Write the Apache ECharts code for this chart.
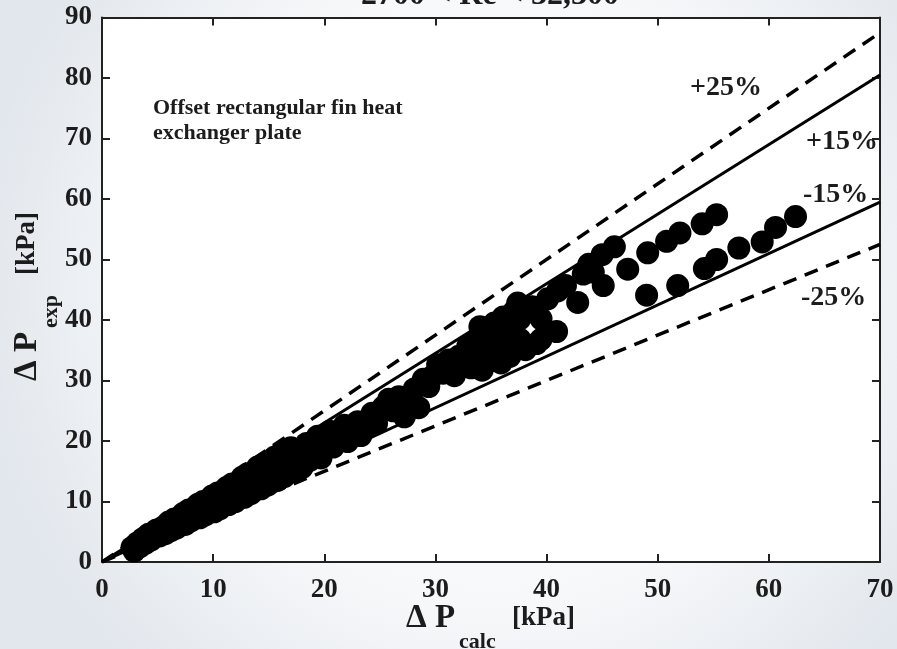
<!DOCTYPE html>
<html>
<head>
<meta charset="utf-8">
<title>Pressure drop parity plot</title>
<script src="https://cdn.jsdelivr.net/npm/echarts@6/dist/echarts.min.js"></script>
<style>
  html, body { margin: 0; padding: 0; }
  #chart { width: 897px; height: 649px; }
</style>
</head>
<body>
<div id="chart"></div>
<script>
const dpCalc = [
  2.7, 2.9, 3.2, 3.4, 3.7, 3.9, 4.2, 4.4, 4.7, 4.9,
  5.2, 5.5, 5.7, 6.0, 6.2, 6.5, 6.7, 7.0, 7.3, 7.5,
  7.8, 8.0, 8.3, 8.6, 8.8, 9.1, 9.3, 9.6, 9.9, 10.1,
  10.4, 10.6, 10.9, 11.2, 11.4, 11.7, 12.0, 12.3, 12.6, 12.8,
  13.1, 13.4, 13.7, 14.0, 14.3, 14.6, 14.9, 15.2, 15.5, 15.8,
  16.1, 16.4, 16.7, 17.0, 17.3, 17.6, 18.0, 18.4, 18.7, 19.0,
  19.4, 19.7, 20.1, 20.5, 20.8, 21.3, 21.8, 22.1, 22.5, 23.0,
  23.3, 23.8, 24.3, 24.7, 25.3, 25.8, 26.2, 26.7, 27.2, 27.6,
  28.1, 28.5, 28.9, 29.4, 29.8, 30.2, 30.7, 31.2, 31.7, 32.1,
  32.5, 32.9, 33.2, 33.6, 34.0, 34.2, 34.4, 34.7, 35.0, 35.3,
  35.6, 35.9, 36.1, 36.4, 36.7, 37.1, 37.4, 37.6, 37.6, 38.1,
  38.7, 39.1, 39.5, 39.5, 40.1, 40.9, 41.0, 41.7, 42.8, 43.3,
  43.8, 44.2, 45.0, 45.1, 46.1, 47.3, 49.1, 50.8, 52.0, 54.0,
  55.3, 49.0, 51.8, 54.2, 55.3, 57.3, 59.4, 60.6, 62.4
];
const dpExp = [
  2.4, 1.8, 3.2, 2.5, 3.9, 3.1, 4.6, 3.6, 4.2, 5.3,
  4.3, 5.8, 4.7, 6.6, 5.2, 7.1, 5.6, 6.8, 8.0, 6.2,
  8.6, 6.8, 8.1, 9.5, 7.3, 10.0, 7.8, 9.4, 10.9, 8.3,
  11.4, 8.8, 10.6, 12.3, 9.5, 12.9, 10.0, 11.9, 14.0, 10.7,
  14.6, 11.3, 13.3, 15.7, 12.1, 16.3, 12.7, 14.8, 17.3, 13.5,
  18.0, 14.1, 16.3, 18.9, 14.9, 17.4, 15.6, 19.6, 16.8, 18.5,
  20.8, 17.2, 19.9, 21.6, 19.0, 20.6, 22.6, 19.9, 21.3, 23.2,
  20.9, 22.5, 24.6, 22.9, 25.6, 26.9, 25.0, 27.3, 24.0, 26.3,
  28.6, 25.5, 30.2, 29.0, 30.8, 32.6, 31.2, 33.4, 30.8, 34.0,
  33.3, 35.6, 32.1, 36.6, 38.9, 31.7, 34.7, 37.5, 33.3, 39.5,
  35.5, 32.9, 40.5, 37.5, 34.0, 41.5, 42.8, 40.2, 36.8, 35.1,
  42.2, 36.1, 40.2, 36.8, 43.5, 38.1, 44.8, 45.7, 42.9, 47.6,
  49.2, 47.9, 50.8, 45.7, 52.1, 48.4, 51.1, 53.0, 54.4, 55.9,
  57.4, 44.1, 45.7, 48.5, 50.0, 51.9, 52.9, 55.3, 57.1
];

// deviation bands y = k * x
const bandSlopes = [1.25, 1.15, 0.85, 0.75];
const bandDashed = [true, false, false, true];
const bandLabels = ['+25%', '+15%', '-15%', '-25%'];

const xRange = [0, 70];
const yRange = [0, 90];
const tickStep = 10;

const SERIF = '"Liberation Serif", "Times New Roman", serif';
const INK = '#1c1c1c';

const chart = echarts.init(document.getElementById('chart'));

const points = dpCalc.map((x, i) => [x, dpExp[i]]);

const bandSeries = bandSlopes.map((k, i) => ({
  type: 'line',
  name: bandLabels[i],
  data: [[xRange[0], xRange[0] * k], [xRange[1], xRange[1] * k]],
  showSymbol: false,
  silent: true,
  z: 2,
  lineStyle: {
    color: '#000',
    width: bandDashed[i] ? 3.5 : 3,
    type: bandDashed[i] ? [14, 9] : 'solid'
  }
}));

const tickLabel = { fontFamily: SERIF, fontWeight: 'bold', fontSize: 27, color: INK };
const frameLine = { show: true, onZero: false, lineStyle: { color: '#222', width: 2 } };
const frameTick = { show: true, inside: true, length: 8, lineStyle: { color: '#222', width: 2 } };

// "ΔP_sub [kPa]" built from three text pieces, laid out along the group's x
function axisTitle(x, y, rotation, sub) {
  const txt = (text, tx, ty, size) => ({
    type: 'text',
    style: { text: text, x: tx, y: ty, textAlign: 'left', textVerticalAlign: 'middle',
      fontFamily: SERIF, fontWeight: 'bold', fontSize: size, fill: INK }
  });
  return {
    type: 'group', x: x, y: y, rotation: rotation,
    children: [
      txt('Δ P', -85, 0, 33),
      txt(sub, -32, 24, 22),
      txt('[kPa]', 21, 0, 27)
    ]
  };
}

const pctPos = [[690, 88], [806, 142], [803, 195], [801, 298]];

chart.setOption({
  backgroundColor: {
    type: 'radial', x: 0.55, y: 0.45, r: 0.8,
    colorStops: [
      { offset: 0, color: '#ffffff' },
      { offset: 0.6, color: '#f7f8fa' },
      { offset: 1, color: '#e2e7ed' }
    ]
  },
  animation: false,
  grid: { left: 102, right: 17, top: 17.5, bottom: 87, show: true, backgroundColor: '#fff', borderWidth: 0 },
  xAxis: [
    {
      type: 'value', min: xRange[0], max: xRange[1], interval: tickStep,
      axisLine: frameLine, axisTick: frameTick, splitLine: { show: false },
      axisLabel: Object.assign({ margin: 15 }, tickLabel)
    },
    {
      type: 'value', position: 'top', min: xRange[0], max: xRange[1], interval: tickStep,
      axisLine: frameLine, axisTick: frameTick, splitLine: { show: false }, axisLabel: { show: false }
    }
  ],
  yAxis: [
    {
      type: 'value', min: yRange[0], max: yRange[1], interval: tickStep,
      axisLine: frameLine, axisTick: frameTick, splitLine: { show: false },
      axisLabel: Object.assign({ margin: 10 }, tickLabel)
    },
    {
      type: 'value', position: 'right', min: yRange[0], max: yRange[1], interval: tickStep,
      axisLine: frameLine, axisTick: frameTick, splitLine: { show: false }, axisLabel: { show: false }
    }
  ],
  series: bandSeries.concat([{
    type: 'scatter',
    data: points,
    symbol: 'circle',
    symbolSize: 23,
    z: 3,
    silent: true,
    itemStyle: { color: '#000', opacity: 1 }
  }]),
  graphic: [
    { type: 'text', style: { text: '2700 < Re < 32,300', x: 490, y: 12, textAlign: 'center', textVerticalAlign: 'bottom',
      fontFamily: SERIF, fontWeight: 'bold', fontSize: 32, fill: INK } },
    { type: 'text', style: { text: 'Offset rectangular fin heat\nexchanger plate', x: 153, y: 96, textAlign: 'left', textVerticalAlign: 'top',
      fontFamily: SERIF, fontWeight: 'bold', fontSize: 22, lineHeight: 25, fill: INK } },
    axisTitle(491, 618, 0, 'calc'),
    axisTitle(27, 296, Math.PI / 2, 'exp')
  ].concat(bandLabels.map((t, i) => ({
    type: 'text', z: 10,
    style: { text: t, x: pctPos[i][0], y: pctPos[i][1], textAlign: 'left', textVerticalAlign: 'middle',
      fontFamily: SERIF, fontWeight: 'bold', fontSize: 28, fill: INK }
  })))
});
</script>
</body>
</html>
